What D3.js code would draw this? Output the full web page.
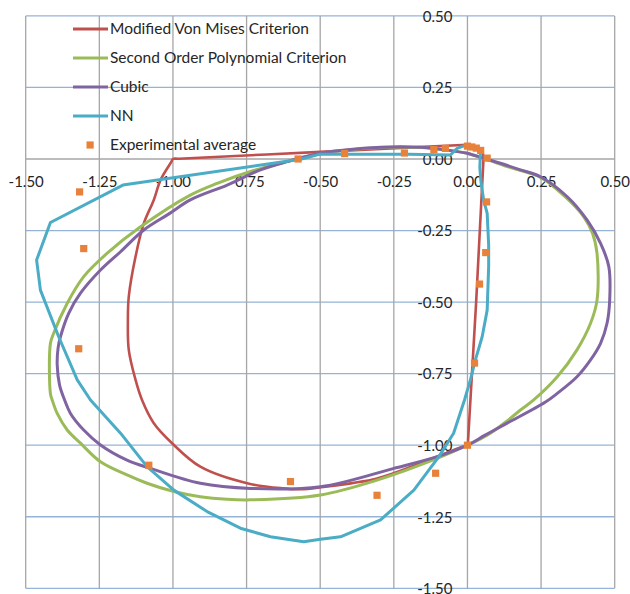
<!DOCTYPE html>
<html>
<head>
<meta charset="utf-8">
<script src="https://cdn.jsdelivr.net/npm/d3@7"></script>
<style>
  html, body { margin: 0; padding: 0; background: #fff; }
  svg text { font-family: Lato, "Open Sans", sans-serif; fill: #262626; }
</style>
</head>
<body>
<svg id="chart" width="630" height="594"></svg>
<script>
// Axis ticks
const xTicks = [-1.5, -1.25, -1.0, -0.75, -0.5, -0.25, 0.0, 0.25, 0.5];
const yTicks = [0.5, 0.25, 0.0, -0.25, -0.5, -0.75, -1.0, -1.25, -1.5];

// Modified Von Mises Criterion
const vmX = [0.0, -0.5, -0.98, -1.0, -1.006, -1.042, -1.065, -1.099, -1.127, -1.150, -1.153, -1.150, -1.127, -1.105, -1.065, -1.003, -0.907, -0.748, -0.624, -0.567, -0.499, -0.307, -0.160, -0.02, 0.0, 0.002, 0.054, 0.054, 0.052, 0.04, 0.0];
const vmY = [0.05, 0.025, 0.001, 0.0, -0.011, -0.073, -0.143, -0.225, -0.341, -0.481, -0.563, -0.667, -0.772, -0.842, -0.923, -0.993, -1.075, -1.133, -1.151, -1.154, -1.147, -1.116, -1.063, -1.006, -1.0, -0.985, -0.01, 0.0, 0.02, 0.037, 0.05];

// Second Order Polynomial Criterion
const p2X = [0.0, 0.067, 0.146, 0.248, 0.33, 0.395, 0.425, 0.440, 0.440, 0.418, 0.372, 0.305, 0.225, 0.180, 0.135, 0.067, 0.0, -0.103, -0.307, -0.499, -0.737, -0.816, -0.907, -0.997, -1.088, -1.156, -1.246, -1.314, -1.359, -1.393, -1.410, -1.416, -1.416, -1.405, -1.359, -1.303, -1.223, -1.110, -0.941, -0.850, -0.726, -0.612, -0.499, -0.295, -0.160, -0.069, 0.0];
const p2Y = [0.02, -0.002, -0.03, -0.064, -0.13, -0.202, -0.26, -0.330, -0.493, -0.574, -0.667, -0.761, -0.842, -0.877, -0.915, -0.965, -1.0, -1.046, -1.122, -1.174, -1.191, -1.189, -1.180, -1.162, -1.133, -1.104, -1.058, -0.993, -0.947, -0.889, -0.842, -0.82, -0.644, -0.609, -0.504, -0.411, -0.329, -0.237, -0.126, -0.085, -0.040, -0.009, 0.019, 0.040, 0.040, 0.031, 0.02];

// Cubic
const cuX = [0.0, 0.067, 0.112, 0.18, 0.248, 0.339, 0.406, 0.452, 0.480, 0.483, 0.474, 0.452, 0.418, 0.372, 0.305, 0.265, 0.135, 0.06, 0.0, -0.103, -0.250, -0.499, -0.737, -0.907, -1.076, -1.156, -1.246, -1.303, -1.348, -1.368, -1.385, -1.393, -1.390, -1.382, -1.354, -1.314, -1.246, -1.178, -1.099, -1.011, -0.941, -0.816, -0.703, -0.612, -0.499, -0.295, -0.160, -0.069, 0.0];
const cuY = [0.02, -0.001, -0.015, -0.038, -0.062, -0.132, -0.213, -0.295, -0.376, -0.493, -0.574, -0.644, -0.702, -0.761, -0.819, -0.849, -0.923, -0.965, -1.0, -1.040, -1.081, -1.145, -1.151, -1.133, -1.081, -1.052, -0.999, -0.947, -0.889, -0.842, -0.79, -0.72, -0.66, -0.621, -0.539, -0.469, -0.388, -0.324, -0.248, -0.19, -0.143, -0.091, -0.038, -0.009, 0.020, 0.041, 0.041, 0.031, 0.02];

// NN
const nnX = [0.0, 0.03, 0.044, 0.042, 0.046, 0.055, 0.067, 0.072, 0.072, 0.067, 0.050, 0.027, 0.010, -0.010, -0.047, -0.097, -0.182, -0.295, -0.431, -0.499, -0.556, -0.669, -0.771, -0.884, -0.997, -1.088, -1.178, -1.280, -1.325, -1.388, -1.450, -1.463, -1.416, -1.170, -0.567, -0.5, -0.2, -0.058, -0.035, -0.012, 0.0];
const nnY = [0.047, 0.04, 0.02, -0.03, -0.08, -0.143, -0.190, -0.30, -0.376, -0.528, -0.621, -0.702, -0.772, -0.842, -0.958, -1.040, -1.157, -1.261, -1.320, -1.329, -1.337, -1.320, -1.290, -1.232, -1.157, -1.075, -0.958, -0.842, -0.772, -0.621, -0.458, -0.353, -0.222, -0.091, -0.001, 0.017, 0.017, 0.014, 0.037, 0.046, 0.047];

// Experimental average
const expX = [-1.317, -1.303, -1.320, -1.082, -0.601, -0.307, -0.108, 0.0, 0.024, 0.041, 0.062, 0.065, 0.067, 0.045, 0.03, 0.015, 0.0, -0.075, -0.114, -0.214, -0.417, -0.575];
const expY = [-0.115, -0.313, -0.663, -1.070, -1.127, -1.175, -1.098, -1.0, -0.713, -0.437, -0.327, -0.150, 0.003, 0.03, 0.038, 0.042, 0.045, 0.037, 0.033, 0.021, 0.019, 0.0];

const seriesNames = ["Modified Von Mises Criterion", "Second Order Polynomial Criterion", "Cubic", "NN", "Experimental average"];
const seriesColors = ["#c0504d", "#9bbb59", "#8064a2", "#4bacc6", "#e8823a"];

const svg = d3.select("#chart");
const x = d3.scaleLinear().domain([-1.5, 0.5]).range([25.7, 614.7]);
const y = d3.scaleLinear().domain([-1.5, 0.5]).range([588.3, 15.9]);

// Gridlines: vertical grey, horizontal blue
const grid = svg.append("g");
grid.selectAll("line.h").data(yTicks).join("line")
  .attr("x1", x(-1.5)).attr("x2", x(0.5))
  .attr("y1", d => y(d)).attr("y2", d => y(d))
  .attr("stroke", d => d === 0 ? "#a6a6a6" : "#95b3d7").attr("stroke-width", 1.3);
grid.selectAll("line.v").data(xTicks).join("line")
  .attr("y1", y(-1.5)).attr("y2", y(0.5))
  .attr("x1", d => x(d)).attr("x2", d => x(d))
  .attr("stroke", "#a6a6a6").attr("stroke-width", 1.3);

// Tick labels on the axes crossing at the origin
const fmt = d => d.toFixed(2);
const xAxis = svg.append("g").attr("transform", `translate(0,${y(0)})`)
  .call(d3.axisBottom(x).tickValues(xTicks).tickFormat(fmt).tickSize(0).tickPadding(0));
xAxis.select(".domain").remove();
xAxis.selectAll("text").attr("y", 28).attr("dy", 0).style("font-size", "15px").attr("fill", "#262626");

const yAxis = svg.append("g").attr("transform", `translate(${x(0)},0)`)
  .call(d3.axisLeft(y).tickValues(yTicks).tickFormat(fmt).tickSize(0).tickPadding(0));
yAxis.select(".domain").remove();
yAxis.selectAll("text").attr("x", -15).attr("dy", "0.35em").style("font-size", "15px").attr("fill", "#262626");

// Curves
const line = d3.line().x(d => x(d[0])).y(d => y(d[1]));
const smooth = d3.line().x(d => x(d[0])).y(d => y(d[1])).curve(d3.curveCatmullRom.alpha(0.5));
const zip = (a, b) => a.map((v, i) => [v, b[i]]);

const curves = [
  { pts: zip(vmX, vmY), gen: smooth, w: 2.6 },
  { pts: zip(p2X, p2Y), gen: smooth, w: 3 },
  { pts: zip(cuX, cuY), gen: smooth, w: 3 },
  { pts: zip(nnX, nnY), gen: line, w: 3 }
];
curves.forEach((c, i) => {
  svg.append("path").attr("d", c.gen(c.pts))
    .attr("fill", "none").attr("stroke", seriesColors[i])
    .attr("stroke-width", c.w).attr("stroke-linejoin", "round");
});

// Experimental markers
svg.append("g").selectAll("rect").data(zip(expX, expY)).join("rect")
  .attr("x", d => x(d[0]) - 3.6).attr("y", d => y(d[1]) - 3.6)
  .attr("width", 7.2).attr("height", 7.2)
  .attr("fill", seriesColors[4]);

// Legend
const legend = svg.append("g");
seriesNames.forEach((name, i) => {
  const ly = 29 + i * 29;
  if (i < 4) {
    legend.append("line").attr("x1", 73).attr("x2", 108).attr("y1", ly).attr("y2", ly)
      .attr("stroke", seriesColors[i]).attr("stroke-width", 3);
  } else {
    legend.append("rect").attr("x", 86.5).attr("y", ly - 3.6).attr("width", 7.2).attr("height", 7.2)
      .attr("fill", seriesColors[i]);
  }
  legend.append("text").attr("x", 110).attr("y", ly).attr("dy", "0.35em")
    .style("font-size", "15.5px").text(name);
});
</script>
</body>
</html>
